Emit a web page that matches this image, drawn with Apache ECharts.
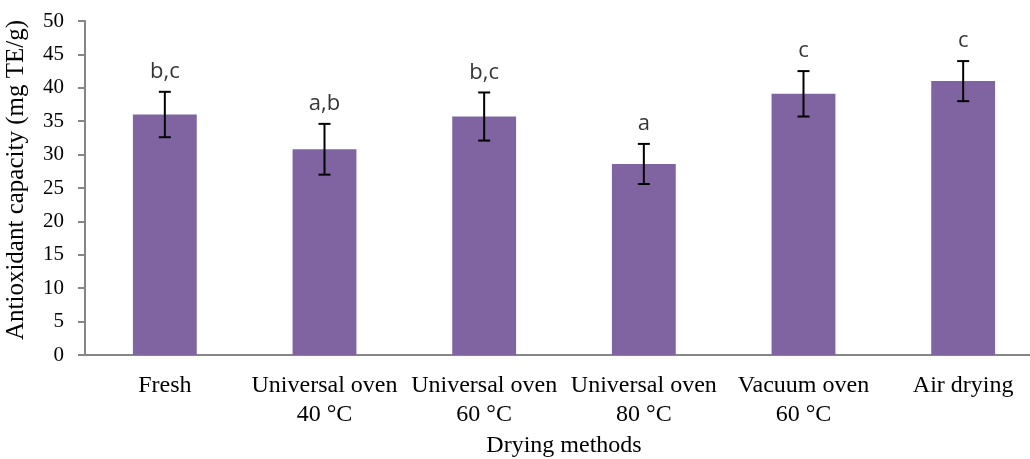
<!DOCTYPE html>
<html>
<head>
<meta charset="utf-8">
<script src="https://cdn.jsdelivr.net/npm/echarts@6/dist/echarts.min.js"></script>
<style>
  html, body { margin: 0; padding: 0; background: #fff; }
  #chart { width: 1030px; height: 459px; }
</style>
</head>
<body>
<div id="chart"></div>
<script>
// drying methods on the x axis
const categories = [
  'Fresh',
  'Universal oven\n40 °C',
  'Universal oven\n60 °C',
  'Universal oven\n80 °C',
  'Vacuum oven\n60 °C',
  'Air drying'
]
// mean antioxidant capacity (mg TE/g)
const means = [36.0, 30.8, 35.7, 28.6, 39.1, 41.0]
// standard deviation (error bar half length)
const errors = [3.4, 3.8, 3.6, 3.0, 3.4, 3.0]
// significance letters above the bars
const letters = ['b,c', 'a,b', 'b,c', 'a', 'c', 'c']

const yTicks = { min: 0, max: 50, interval: 5 }

const serif = 'Liberation Serif'
const chart = echarts.init(document.getElementById('chart'))

const errData = means.map((m, i) => [i, m - errors[i], m + errors[i]])
const letterData = means.map((m, i) => [i, m + errors[i]])

const option = {
  animation: false,
  grid: { left: 85, right: -13, top: 21, bottom: 104, containLabel: false, outerBoundsMode: 'none' },
  xAxis: {
    type: 'category',
    data: categories,
    name: 'Drying methods',
    nameLocation: 'middle',
    nameGap: 79,
    nameTextStyle: { fontFamily: serif, fontSize: 24, color: '#000' },
    axisLine: { lineStyle: { color: '#868686', width: 2 } },
    axisTick: { show: false },
    axisLabel: {
      fontFamily: serif, fontSize: 24, color: '#000',
      margin: 16, lineHeight: 29, interval: 0
    }
  },
  yAxis: {
    type: 'value',
    min: yTicks.min,
    max: yTicks.max,
    interval: yTicks.interval,
    name: 'Antioxidant capacity (mg TE/g)',
    nameLocation: 'middle',
    nameGap: 56,
    nameTextStyle: { fontFamily: serif, fontSize: 25, color: '#000', padding: [0, 0, 0, 16] },
    axisLine: { show: true, lineStyle: { color: '#868686', width: 2 } },
    axisTick: { show: true, inside: false, length: 7, lineStyle: { color: '#868686', width: 2 } },
    splitLine: { show: false },
    axisLabel: { fontFamily: serif, fontSize: 21, color: '#000', margin: 21 }
  },
  series: [
    {
      type: 'bar',
      data: means,
      barWidth: '40%',
      itemStyle: { color: '#8064A2' }
    },
    {
      type: 'custom',
      data: errData,
      z: 10,
      renderItem(params, api) {
        const x = api.value(0)
        const lo = api.coord([x, api.value(1)])
        const hi = api.coord([x, api.value(2)])
        const half = 6
        const style = { stroke: '#000', lineWidth: 2 }
        return {
          type: 'group',
          children: [
            { type: 'line', shape: { x1: lo[0], y1: lo[1], x2: hi[0], y2: hi[1] }, style },
            { type: 'line', shape: { x1: hi[0] - half, y1: hi[1], x2: hi[0] + half, y2: hi[1] }, style },
            { type: 'line', shape: { x1: lo[0] - half, y1: lo[1], x2: lo[0] + half, y2: lo[1] }, style }
          ]
        }
      }
    },
    {
      type: 'scatter',
      data: letterData,
      symbolSize: 0,
      label: {
        show: true,
        position: 'top',
        distance: 9,
        fontFamily: 'Open Sans',
        fontSize: 22,
        color: '#000',
        formatter: p => letters[p.dataIndex]
      }
    }
  ]
}

chart.setOption(option)
</script>
</body>
</html>
